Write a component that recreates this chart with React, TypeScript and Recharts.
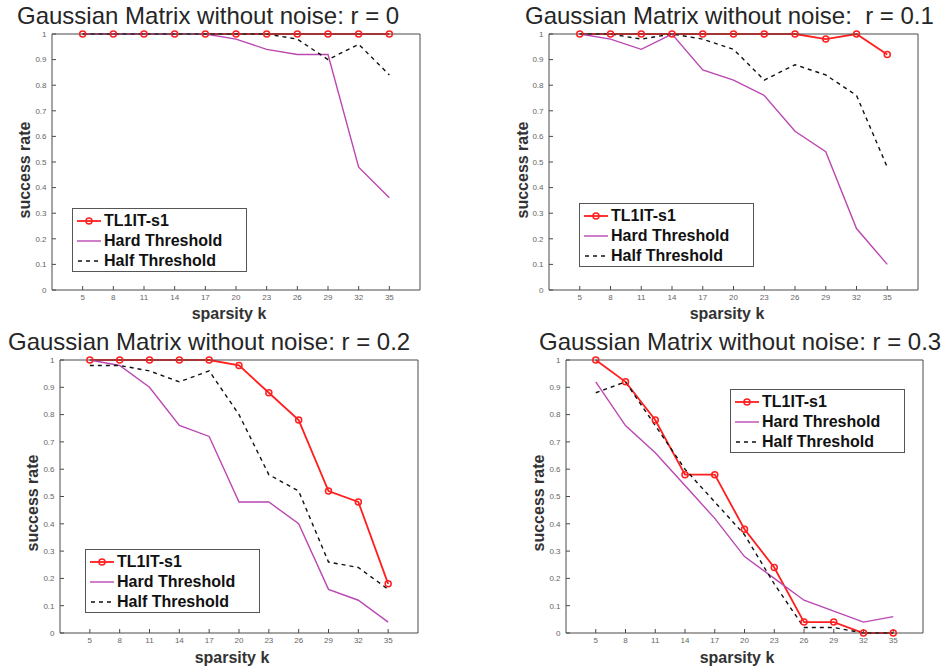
import React from 'react';
import { LineChart, Line, XAxis, YAxis } from 'recharts';

const kValues = [5, 8, 11, 14, 17, 20, 23, 26, 29, 32, 35];
const yTicks = [0, 0.1, 0.2, 0.3, 0.4, 0.5, 0.6, 0.7, 0.8, 0.9, 1];

// r = 0
const tl1R0 = [1, 1, 1, 1, 1, 1, 1, 1, 1, 1, 1];
const hardR0 = [1, 1, 1, 1, 1, 0.98, 0.94, 0.92, 0.92, 0.48, 0.36];
const halfR0 = [1, 1, 1, 1, 1, 1, 1, 0.98, 0.9, 0.96, 0.84];

// r = 0.1
const tl1R1 = [1, 1, 1, 1, 1, 1, 1, 1, 0.98, 1, 0.92];
const hardR1 = [1, 0.98, 0.94, 1, 0.86, 0.82, 0.76, 0.62, 0.54, 0.24, 0.1];
const halfR1 = [1, 1, 0.98, 1, 0.98, 0.94, 0.82, 0.88, 0.84, 0.76, 0.48];

// r = 0.2
const tl1R2 = [1, 1, 1, 1, 1, 0.98, 0.88, 0.78, 0.52, 0.48, 0.18];
const hardR2 = [1, 0.98, 0.9, 0.76, 0.72, 0.48, 0.48, 0.4, 0.16, 0.12, 0.04];
const halfR2 = [0.98, 0.98, 0.96, 0.92, 0.96, 0.8, 0.58, 0.52, 0.26, 0.24, 0.16];

// r = 0.3
const tl1R3 = [1, 0.92, 0.78, 0.58, 0.58, 0.38, 0.24, 0.04, 0.04, 0, 0];
const hardR3 = [0.92, 0.76, 0.66, 0.54, 0.42, 0.28, 0.2, 0.12, 0.08, 0.04, 0.06];
const halfR3 = [0.88, 0.92, 0.76, 0.6, 0.48, 0.36, 0.18, 0.02, 0.02, 0, 0];

const seriesNames = ['TL1IT-s1', 'Hard Threshold', 'Half Threshold'];

const RED = '#ff1f1f';
const PURPLE = '#bb47b2';
const BLACK = '#111';
const AXIS = '#4a4a4a';
const FONT = '"Liberation Sans", Arial, Helvetica, sans-serif';

type Box = { x: number; y: number; w: number; h: number };
type Pt = { x: number; y: number };

type PanelCfg = {
  tl1: number[];
  hard: number[];
  half: number[];
  plot: Box;
  title: string;
  titlePos: Pt;
  legend: Pt;
  xLabel: Pt;
  yLabel: Pt;
};

const panels: PanelCfg[] = [
  {
    tl1: tl1R0, hard: hardR0, half: halfR0,
    plot: { x: 52, y: 34, w: 368, h: 256 },
    title: 'Gaussian Matrix without noise: r = 0',
    titlePos: { x: 17, y: 4 },
    legend: { x: 72, y: 208 },
    xLabel: { x: 229, y: 314 },
    yLabel: { x: 25, y: 170 },
  },
  {
    tl1: tl1R1, hard: hardR1, half: halfR1,
    plot: { x: 549, y: 34, w: 369, h: 256 },
    title: 'Gaussian Matrix without noise:  r = 0.1',
    titlePos: { x: 525, y: 4 },
    legend: { x: 579, y: 203 },
    xLabel: { x: 727, y: 314 },
    yLabel: { x: 523, y: 170 },
  },
  {
    tl1: tl1R2, hard: hardR2, half: halfR2,
    plot: { x: 60, y: 360, w: 358, h: 273 },
    title: 'Gaussian Matrix without noise: r = 0.2',
    titlePos: { x: 8, y: 330 },
    legend: { x: 85, y: 549 },
    xLabel: { x: 232, y: 658 },
    yLabel: { x: 33, y: 503 },
  },
  {
    tl1: tl1R3, hard: hardR3, half: halfR3,
    plot: { x: 566, y: 360, w: 357, h: 273 },
    title: 'Gaussian Matrix without noise: r = 0.3',
    titlePos: { x: 539, y: 330 },
    legend: { x: 730, y: 389 },
    xLabel: { x: 737, y: 658 },
    yLabel: { x: 539, y: 503 },
  },
];

const tickStyle = { fill: '#666', fontSize: 8, fontFamily: FONT };

// space reserved around the plot box by the axes
const L = 50;
const T = 10;
const R = 1;
const B = 20;

function Legend({ pos }: { pos: Pt }) {
  const samples = [
    <svg width={24} height={10} key="a">
      <line x1={0} y1={5} x2={24} y2={5} stroke={RED} strokeWidth={1.8} />
      <circle cx={12} cy={5} r={3} fill="none" stroke={RED} strokeWidth={1.5} />
    </svg>,
    <svg width={24} height={10} key="b">
      <line x1={0} y1={5} x2={24} y2={5} stroke={PURPLE} strokeWidth={1.4} />
    </svg>,
    <svg width={24} height={10} key="c">
      <line x1={1} y1={5} x2={24} y2={5} stroke={BLACK} strokeWidth={1.4} strokeDasharray="4 4" />
    </svg>,
  ];
  return (
    <div
      style={{
        position: 'absolute',
        left: pos.x,
        top: pos.y,
        width: 175,
        height: 64,
        boxSizing: 'border-box',
        border: '1px solid #555',
        background: '#fff',
        paddingTop: 2,
      }}
    >
      {seriesNames.map((name, i) => (
        <div key={name} style={{ display: 'flex', alignItems: 'center', height: 20 }}>
          <div style={{ width: 4 }} />
          {samples[i]}
          <span style={{ marginLeft: 3, fontWeight: 700, fontSize: 16, color: '#111', lineHeight: '20px' }}>
            {name}
          </span>
        </div>
      ))}
    </div>
  );
}

function Panel({ cfg }: { cfg: PanelCfg }) {
  const data = kValues.map((k, i) => ({
    k,
    tl1: cfg.tl1[i],
    hard: cfg.hard[i],
    half: cfg.half[i],
  }));
  const { plot } = cfg;
  return (
    <>
      <div
        style={{
          position: 'absolute',
          left: cfg.titlePos.x,
          top: cfg.titlePos.y,
          fontSize: 24,
          lineHeight: 1,
          color: '#262626',
          whiteSpace: 'pre',
        }}
      >
        {cfg.title}
      </div>
      <div style={{ position: 'absolute', left: plot.x - L, top: plot.y - T }}>
        <LineChart
          width={plot.w + L + R}
          height={plot.h + T + B}
          data={data}
          margin={{ top: 0, right: 0, bottom: 0, left: 0 }}
        >
          <XAxis
            dataKey="k"
            type="number"
            domain={[2, 38]}
            ticks={kValues}
            interval={0}
            height={B}
            stroke={AXIS}
            tickSize={-4}
            tickMargin={8}
            tick={tickStyle}
          />
          <XAxis
            xAxisId="top"
            orientation="top"
            dataKey="k"
            type="number"
            domain={[2, 38]}
            ticks={kValues}
            interval={0}
            height={T}
            stroke={AXIS}
            tickSize={-4}
            tick={false}
          />
          <YAxis
            type="number"
            domain={[0, 1]}
            ticks={yTicks}
            interval={0}
            width={L}
            stroke={AXIS}
            tickSize={-4}
            tickMargin={9.5}
            tick={tickStyle}
          />
          <YAxis
            yAxisId="right"
            orientation="right"
            type="number"
            domain={[0, 1]}
            ticks={yTicks}
            interval={0}
            width={R}
            stroke={AXIS}
            tickSize={-4}
            tick={false}
          />
          <Line
            dataKey="tl1"
            stroke={RED}
            strokeWidth={1.8}
            dot={{ r: 3, fill: 'none', stroke: RED, strokeWidth: 1.5 }}
            isAnimationActive={false}
          />
          <Line
            dataKey="hard"
            stroke={PURPLE}
            strokeWidth={1.4}
            dot={false}
            isAnimationActive={false}
          />
          <Line
            dataKey="half"
            stroke={BLACK}
            strokeWidth={1.4}
            strokeDasharray="4 4"
            dot={false}
            isAnimationActive={false}
          />
        </LineChart>
      </div>
      <Legend pos={cfg.legend} />
      <div
        style={{
          position: 'absolute',
          left: cfg.xLabel.x,
          top: cfg.xLabel.y,
          transform: 'translate(-50%, -50%)',
          fontSize: 16,
          fontWeight: 700,
          lineHeight: 1,
          color: '#333',
          whiteSpace: 'nowrap',
        }}
      >
        sparsity k
      </div>
      <div
        style={{
          position: 'absolute',
          left: cfg.yLabel.x,
          top: cfg.yLabel.y,
          transform: 'translate(-50%, -50%) rotate(-90deg)',
          fontSize: 16,
          fontWeight: 700,
          lineHeight: 1,
          color: '#333',
          whiteSpace: 'nowrap',
        }}
      >
        success rate
      </div>
    </>
  );
}

export default function App() {
  return (
    <div
      style={{
        position: 'absolute',
        left: 0,
        top: 0,
        width: 943,
        height: 669,
        background: '#fff',
        overflow: 'hidden',
        fontFamily: FONT,
      }}
    >
      {panels.map((p) => (
        <Panel key={p.title} cfg={p} />
      ))}
    </div>
  );
}
